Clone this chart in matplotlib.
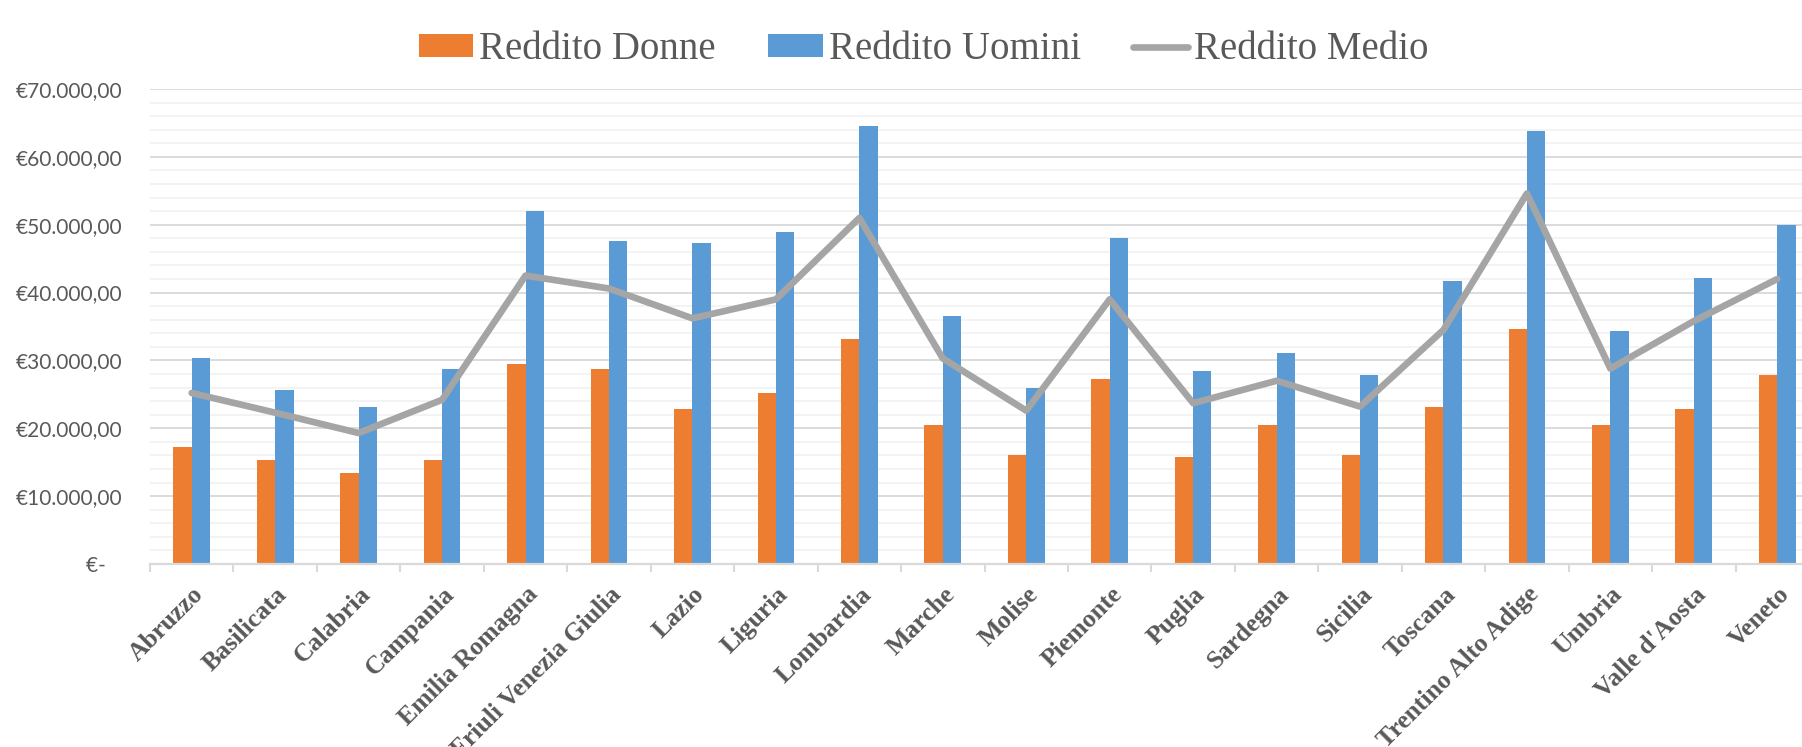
import numpy as np
import matplotlib
matplotlib.use("Agg")
import matplotlib.pyplot as plt
from matplotlib.ticker import FuncFormatter, MultipleLocator

# dati
regioni = [
    "Abruzzo", "Basilicata", "Calabria", "Campania", "Emilia Romagna",
    "Friuli Venezia Giulia", "Lazio", "Liguria", "Lombardia", "Marche",
    "Molise", "Piemonte", "Puglia", "Sardegna", "Sicilia", "Toscana",
    "Trentino Alto Adige", "Umbria", "Valle d'Aosta", "Veneto",
]
reddito_donne = [
    17300, 15300, 13400, 15300, 29500, 28800, 22800, 25200, 33100, 20500,
    16100, 27200, 15700, 20500, 16100, 23200, 34700, 20500, 22800, 27900,
]
reddito_uomini = [
    30300, 25600, 23200, 28800, 52000, 47600, 47300, 48900, 64600, 36600,
    26000, 48100, 28400, 31100, 27900, 41700, 63800, 34300, 42100, 50000,
]
reddito_medio = [
    25200, 22300, 19300, 24200, 42500, 40600, 36200, 39000, 51000, 30300,
    22600, 39000, 23700, 27000, 23200, 34500, 54600, 28800, 35800, 42000,
]

ORANGE = "#ED7D31"
BLUE = "#5B9BD5"
GREY = "#A5A5A5"
TEXT = "#595959"


def euro_fmt(v, pos):
    if v == 0:
        return "€-   "
    s = f"{v:,.2f}"  # 70,000.00
    s = s.replace(",", "X").replace(".", ",").replace("X", ".")
    return "€" + s


def main():
    W, H = 1802, 747
    fig = plt.figure(figsize=(W / 100, H / 100), dpi=100)
    # l'area del grafico continua oltre il bordo destro (tagliata nell'originale)
    ax = fig.add_axes([150 / W, (H - 564) / H, 1669 / W, 475 / H])

    x = np.arange(len(regioni))
    bw = 0.22
    b1 = ax.bar(x - bw / 2, reddito_donne, width=bw, color=ORANGE,
                label="Reddito Donne", zorder=3)
    b2 = ax.bar(x + bw / 2, reddito_uomini, width=bw, color=BLUE,
                label="Reddito Uomini", zorder=3)
    l1, = ax.plot(x, reddito_medio, color=GREY, lw=4.8, label="Reddito Medio",
                  solid_joinstyle="round", solid_capstyle="round", zorder=4)

    ax.set_xlim(-0.5, len(regioni) - 0.5)
    ax.set_ylim(0, 70000)

    # griglia
    ax.yaxis.set_major_locator(MultipleLocator(10000))
    ax.yaxis.set_minor_locator(MultipleLocator(2000))
    ax.grid(axis="y", which="major", color="#D9D9D9", lw=1.3, zorder=1)
    ax.grid(axis="y", which="minor", color="#F2F2F2", lw=1.3, zorder=0)
    ax.set_axisbelow(True)

    for side in ["top", "right", "left"]:
        ax.spines[side].set_visible(False)
    ax.spines["bottom"].set_color("#D9D9D9")
    ax.spines["bottom"].set_linewidth(1.6)
    ax.spines["bottom"].set_zorder(5)

    # etichette asse y
    ax.yaxis.set_major_formatter(FuncFormatter(euro_fmt))
    ax.tick_params(axis="y", which="both", length=0, pad=20,
                   labelsize=15, labelcolor=TEXT)
    for lbl in ax.get_yticklabels():
        lbl.set_family("Lato")

    # etichette asse x (spostate un po' a destra come in Excel),
    # tacche ai bordi delle categorie
    ax.set_xticks(x + 0.2)
    ax.set_xticklabels(regioni, rotation=45, ha="right", va="top",
                       fontsize=18.5, fontweight="bold", color=TEXT,
                       family="Liberation Serif")
    ax.set_xticks(np.arange(len(regioni) + 1) - 0.5, minor=True)
    ax.tick_params(axis="x", which="major", length=0, pad=13.5)
    ax.tick_params(axis="x", which="minor", length=6, width=1.5,
                   color="#D9D9D9")

    fig.legend([b1, b2, l1], ["Reddito Donne", "Reddito Uomini", "Reddito Medio"],
               loc="upper center", bbox_to_anchor=(0.5125, 1.005),
               ncol=3, frameon=False,
               prop={"family": "Liberation Serif", "size": 28},
               handlelength=1.4, handleheight=0.5, handletextpad=0.15,
               columnspacing=1.35, labelcolor=TEXT)

    fig.savefig("out.png", dpi=100)
    plt.close(fig)


if __name__ == "__main__":
    main()
